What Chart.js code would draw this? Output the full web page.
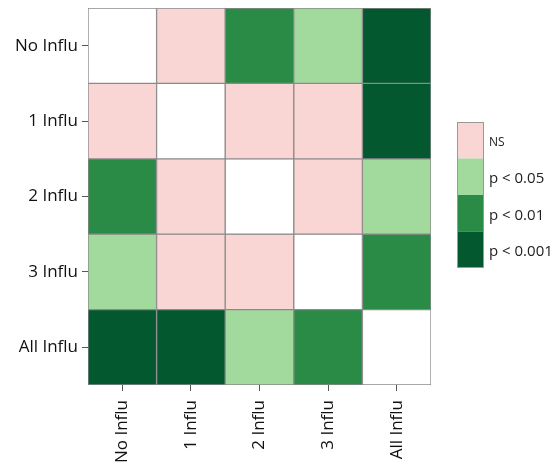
<!DOCTYPE html>
<html>
<head>
<meta charset="utf-8">
<script src="https://cdn.jsdelivr.net/npm/chart.js@4"></script>
<style>
  html, body { margin: 0; padding: 0; background: #fff; }
  #wrap { width: 554px; height: 476px; }
</style>
</head>
<body>
<div id="wrap"><canvas id="heat"></canvas></div>
<script>
// categories (same for rows and columns)
const groups = ['No Influ', '1 Influ', '2 Influ', '3 Influ', 'All Influ'];

// significance level per cell: -1 = diagonal, 0 = NS, 1 = p<0.05, 2 = p<0.01, 3 = p<0.001
const rowNoInflu  = [-1, 0, 2, 1, 3];
const row1Influ   = [0, -1, 0, 0, 3];
const row2Influ   = [2, 0, -1, 0, 1];
const row3Influ   = [1, 0, 0, -1, 2];
const rowAllInflu = [3, 3, 1, 2, -1];

const levelLabels = ['NS', 'p < 0.05', 'p < 0.01', 'p < 0.001'];
const levelColors = ['#f9d6d4', '#a2d99c', '#2a8b47', '#03582f'];
const diagColor = '#ffffff';

const rows = [rowNoInflu, row1Influ, row2Influ, row3Influ, rowAllInflu];

// one dataset per row, each cell a floating bar spanning [r, r+1]
const datasets = rows.map(function(levels, r) {
    return {
        label: groups[r],
        data: levels.map(function() { return [r, r + 1]; }),
        backgroundColor: levels.map(function(l) { return l < 0 ? diagColor : levelColors[l]; }),
        borderColor: '#8a8a8a',
        borderWidth: 1,
        borderSkipped: false,
        grouped: false,
        barPercentage: 1,
        categoryPercentage: 1
    };
});

// colour bar legend on the right
const colorBar = {
    id: 'colorBar',
    afterDraw(chart) {
        const ctx = chart.ctx;
        const x = 457, w = 27, top = 122, h = 36.5;
        ctx.save();
        levelLabels.forEach(function(lab, i) {
            ctx.fillStyle = levelColors[i];
            ctx.fillRect(x, top + i * h, w, h);
            ctx.fillStyle = '#222';
            ctx.font = (i === 0 ? '12px' : '15px') + ' "Open Sans", sans-serif';
            ctx.textBaseline = 'middle';
            ctx.fillText(lab, x + w + 5, top + i * h + h / 2 + 2);
        });
        ctx.strokeStyle = '#999';
        ctx.lineWidth = 1;
        ctx.strokeRect(x + 0.5, top + 0.5, w - 1, h * levelLabels.length - 1);
        ctx.restore();
    }
};

new Chart(document.getElementById('heat'), {
    type: 'bar',
    data: { labels: groups, datasets: datasets },
    options: {
        responsive: true,
        maintainAspectRatio: false,
        animation: false,
        layout: { padding: { top: 8, right: 123, left: 0, bottom: 0 } },
        plugins: { legend: { display: false }, tooltip: { enabled: false } },
        scales: {
            x: {
                offset: true,
                grid: { offset: false, drawOnChartArea: false, drawTicks: true, tickLength: 6, color: '#555' },
                border: { display: false },
                ticks: {
                    color: '#111',
                    font: { family: '"Open Sans", sans-serif', size: 17 },
                    minRotation: 90,
                    maxRotation: 90,
                    padding: 9
                },
                afterFit(scale) {
                    scale.height = 91;
                    scale.paddingLeft = 0;
                    scale.paddingRight = 0;
                }
            },
            y: {
                type: 'linear',
                min: 0,
                max: 5,
                reverse: true,
                grid: { drawOnChartArea: false, drawTicks: true, tickLength: 6, color: '#555' },
                border: { display: false },
                afterBuildTicks(scale) {
                    scale.ticks = groups.map(function(g, i) { return { value: i + 0.5 }; });
                },
                ticks: {
                    color: '#111',
                    font: { family: '"Open Sans", sans-serif', size: 17 },
                    padding: 4,
                    callback: function(v) { return groups[Math.floor(v)]; }
                },
                afterFit(scale) {
                    scale.width = 88;
                    scale.paddingTop = 0;
                    scale.paddingBottom = 0;
                }
            }
        }
    },
    plugins: [colorBar]
});
</script>
</body>
</html>
